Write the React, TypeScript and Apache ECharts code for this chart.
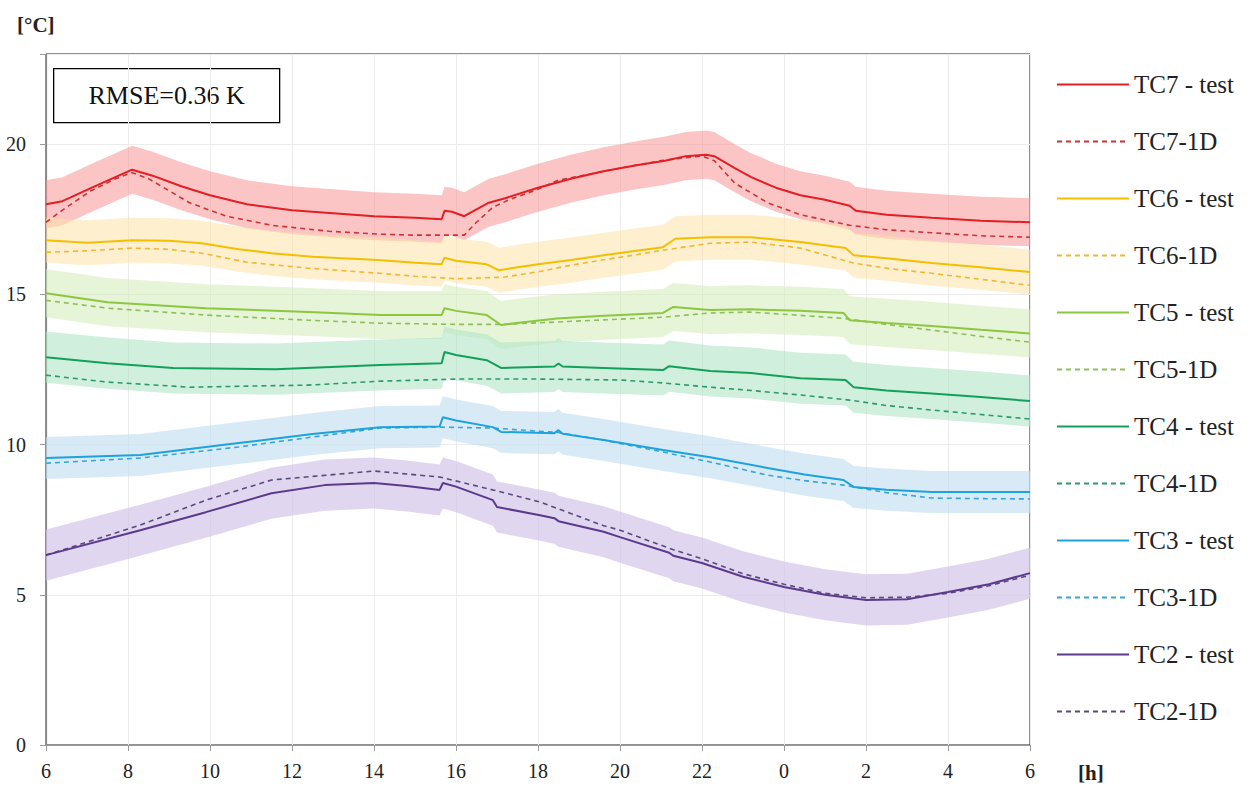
import React, { useEffect, useRef } from "react";
import * as echarts from "echarts";

// x values: hours elapsed since 06:00 (0..24); labels show clock hour
const xTickLabels = ["6", "8", "10", "12", "14", "16", "18", "20", "22", "0", "2", "4", "6"];
const yTickLabels = [0, 5, 10, 15, 20];

// TC7
const tc7TestT = [0, 0.4, 1.2, 2.1, 2.6, 3.3, 4.0, 4.9, 6.0, 7.0, 8.0, 9.0, 9.65, 9.72, 9.9, 10.2, 10.8, 11.2, 12.0, 12.8, 13.6, 14.4, 15.1, 15.6, 16.1, 16.3, 16.8, 17.2, 17.8, 18.4, 19.0, 19.6, 19.75, 20.5, 21.6, 22.8, 24];
const tc7TestV = [18.0, 18.1, 18.6, 19.15, 18.95, 18.6, 18.3, 18.0, 17.8, 17.7, 17.6, 17.55, 17.5, 17.78, 17.75, 17.6, 18.05, 18.2, 18.55, 18.85, 19.1, 19.3, 19.45, 19.6, 19.65, 19.6, 19.2, 18.9, 18.55, 18.3, 18.15, 17.95, 17.78, 17.65, 17.55, 17.45, 17.4];
const tc71DT = [0, 0.5, 1.1, 1.7, 2.1, 2.5, 3.0, 3.5, 4.4, 5.5, 6.9, 8.2, 9.0, 10.2, 10.5, 10.9, 11.3, 12.0, 12.5, 13.6, 15.0, 15.6, 16.0, 16.3, 16.8, 17.6, 18.4, 19.6, 20.5, 21.6, 22.8, 24];
const tc71DV = [17.4, 17.9, 18.45, 18.85, 19.05, 18.85, 18.45, 18.05, 17.6, 17.3, 17.1, 17.0, 16.97, 16.97, 17.4, 17.9, 18.15, 18.5, 18.8, 19.1, 19.45, 19.55, 19.6, 19.45, 18.7, 18.05, 17.65, 17.3, 17.15, 17.05, 16.95, 16.9];

// TC6
const tc6TestT = [0, 1.0, 2.1, 3.0, 3.8, 4.7, 5.5, 6.5, 8.1, 9.0, 9.65, 9.72, 10.0, 10.75, 11.05, 11.5, 12.0, 12.8, 13.6, 14.4, 15.05, 15.35, 16.2, 17.2, 18.4, 19.5, 19.7, 20.5, 21.6, 22.8, 24];
const tc6TestV = [16.8, 16.72, 16.8, 16.78, 16.7, 16.5, 16.37, 16.25, 16.14, 16.05, 16.0, 16.22, 16.12, 16.0, 15.8, 15.9, 16.0, 16.14, 16.3, 16.45, 16.57, 16.85, 16.9, 16.9, 16.74, 16.54, 16.3, 16.2, 16.04, 15.9, 15.74];
const tc61DT = [0, 1.0, 2.1, 3.0, 3.8, 4.9, 6.4, 8.15, 9.0, 10.0, 11.15, 12.0, 12.8, 13.6, 14.4, 15.05, 16.2, 17.2, 18.4, 19.7, 20.6, 21.6, 22.8, 24];
const tc61DV = [16.4, 16.45, 16.54, 16.5, 16.37, 16.07, 15.87, 15.7, 15.6, 15.52, 15.57, 15.75, 15.97, 16.15, 16.32, 16.47, 16.7, 16.74, 16.54, 16.04, 15.85, 15.7, 15.5, 15.3];

// TC5
const tc5TestT = [0, 1.5, 3.9, 6.4, 8.15, 9.65, 9.72, 10.0, 10.75, 11.1, 11.8, 12.46, 13.5, 15.05, 15.3, 16.2, 17.17, 18.4, 19.45, 19.6, 20.5, 21.6, 22.8, 24];
const tc5TestV = [15.04, 14.74, 14.54, 14.41, 14.31, 14.31, 14.54, 14.45, 14.31, 13.98, 14.1, 14.2, 14.28, 14.38, 14.58, 14.48, 14.5, 14.45, 14.38, 14.14, 14.05, 13.95, 13.82, 13.7];
const tc51DT = [0, 1.5, 3.9, 6.4, 8.15, 10.0, 11.1, 12.46, 15.05, 16.2, 17.17, 18.4, 19.45, 20.5, 21.6, 22.8, 24];
const tc51DV = [14.8, 14.54, 14.31, 14.14, 14.04, 14.0, 14.0, 14.08, 14.24, 14.38, 14.41, 14.3, 14.2, 14.0, 13.81, 13.6, 13.41];

// TC4
const tc4TestT = [0, 1.5, 3.1, 5.6, 8.15, 9.65, 9.72, 10.0, 10.75, 11.1, 12.4, 12.5, 12.6, 13.6, 15.05, 15.2, 16.2, 17.2, 18.4, 19.5, 19.7, 20.5, 21.6, 22.8, 24];
const tc4TestV = [12.91, 12.71, 12.55, 12.51, 12.65, 12.71, 13.08, 12.98, 12.81, 12.55, 12.6, 12.7, 12.6, 12.55, 12.48, 12.61, 12.45, 12.38, 12.21, 12.15, 11.91, 11.8, 11.7, 11.58, 11.45];
const tc41DT = [0, 1.5, 3.5, 6.4, 8.15, 10.0, 12.0, 14.0, 15.05, 16.2, 17.2, 18.4, 19.6, 20.5, 21.6, 22.8, 24];
const tc41DV = [12.31, 12.08, 11.91, 11.98, 12.11, 12.18, 12.18, 12.15, 12.05, 11.91, 11.8, 11.65, 11.48, 11.3, 11.15, 11.0, 10.85];

// TC3
const tc3TestT = [0, 2.3, 4.7, 6.5, 8.15, 9.6, 9.68, 10.0, 10.9, 11.1, 12.4, 12.5, 12.6, 13.6, 15.05, 16.2, 17.6, 18.5, 19.45, 19.7, 20.5, 21.6, 22.8, 24];
const tc3TestV = [9.55, 9.65, 10.05, 10.35, 10.58, 10.6, 10.91, 10.8, 10.58, 10.42, 10.38, 10.48, 10.36, 10.15, 9.82, 9.58, 9.22, 9.0, 8.82, 8.59, 8.5, 8.42, 8.42, 8.42];
const tc31DT = [0, 2.3, 4.7, 6.5, 8.15, 9.6, 10.9, 12.5, 13.6, 15.05, 16.2, 17.6, 18.5, 19.45, 20.5, 21.6, 22.8, 24];
const tc31DV = [9.38, 9.55, 9.92, 10.25, 10.55, 10.58, 10.55, 10.4, 10.15, 9.75, 9.42, 8.98, 8.8, 8.65, 8.4, 8.22, 8.2, 8.19];

// TC2
const tc2TestT = [0, 2.3, 3.9, 5.5, 6.8, 8.0, 8.8, 9.6, 9.68, 10.0, 10.9, 11.0, 12.05, 12.4, 12.5, 13.6, 14.0, 15.2, 15.3, 16.0, 17.0, 18.0, 19.0, 20.0, 21.0, 22.0, 23.0, 24];
const tc2TestV = [6.32, 7.15, 7.75, 8.38, 8.65, 8.72, 8.62, 8.49, 8.72, 8.6, 8.15, 7.92, 7.65, 7.55, 7.45, 7.1, 6.92, 6.4, 6.3, 6.06, 5.6, 5.26, 5.0, 4.83, 4.85, 5.09, 5.35, 5.72];
const tc21DT = [0, 2.3, 3.9, 5.5, 8.0, 9.6, 10.9, 12.05, 13.6, 14.0, 15.3, 16.0, 17.0, 18.0, 19.0, 20.0, 21.0, 22.0, 23.0, 24];
const tc21DV = [6.32, 7.32, 8.15, 8.82, 9.12, 8.92, 8.49, 8.09, 7.3, 7.15, 6.5, 6.2, 5.7, 5.35, 5.05, 4.9, 4.92, 5.05, 5.3, 5.65];

// measurement uncertainty half-width of each test sensor [K]
const uncertainty = [0.8, 0.75, 0.8, 0.85, 0.7, 0.85];

const sensorNames = ["TC7", "TC6", "TC5", "TC4", "TC3", "TC2"];
const testT = [tc7TestT, tc6TestT, tc5TestT, tc4TestT, tc3TestT, tc2TestT];
const testV = [tc7TestV, tc6TestV, tc5TestV, tc4TestV, tc3TestV, tc2TestV];
const simT = [tc71DT, tc61DT, tc51DT, tc41DT, tc31DT, tc21DT];
const simV = [tc71DV, tc61DV, tc51DV, tc41DV, tc31DV, tc21DV];

const lineColors = ["#e31e24", "#f2c000", "#8dc63f", "#13a05a", "#1ca3dc", "#5b3a8c"];
const dashColors = ["#cc3333", "#efb832", "#8fbf5a", "#2a9a6e", "#35a6d6", "#5a4a7a"];
const bandColors = [
  "rgba(248,150,150,0.55)",
  "rgba(253,225,165,0.55)",
  "rgba(214,236,190,0.6)",
  "rgba(176,228,198,0.6)",
  "rgba(196,222,242,0.65)",
  "rgba(212,196,234,0.7)",
];

const serif = "Liberation Serif";

export default function App() {
  const ref = useRef<HTMLDivElement>(null);

  useEffect(() => {
    if (!ref.current) return;
    const chart = echarts.init(ref.current, undefined, { renderer: "svg" });

    const series: any[] = [];
    const legendData: string[] = [];

    sensorNames.forEach((name, k) => {
      const t = testT[k];
      const v = testV[k];
      const u = uncertainty[k];
      const rows = t.map((x, i) => [x, v[i] - u, v[i] + u]);
      series.push({
        type: "custom",
        name: name + "_band",
        data: rows,
        silent: true,
        z: 1,
        encode: { x: 0, y: [1, 2] },
        renderItem: (params: any, api: any) => {
          if (params.dataIndex !== 0) return null;
          const upper = rows.map((r) => api.coord([r[0], r[2]]));
          const lower = rows.map((r) => api.coord([r[0], r[1]])).reverse();
          return {
            type: "polygon",
            shape: { points: upper.concat(lower) },
            style: { fill: bandColors[k] },
          };
        },
      });
    });

    sensorNames.forEach((name, k) => {
      const testName = name + " - test";
      const simName = name + "-1D";
      legendData.push(testName, simName);
      series.push({
        type: "line",
        name: testName,
        data: testT[k].map((x, i) => [x, testV[k][i]]),
        symbol: "none",
        color: lineColors[k],
        lineStyle: { color: lineColors[k], width: 2 },
        z: 4,
      });
      series.push({
        type: "line",
        name: simName,
        data: simT[k].map((x, i) => [x, simV[k][i]]),
        symbol: "none",
        color: dashColors[k],
        lineStyle: { color: dashColors[k], width: 1.6, type: [5, 4] },
        z: 3,
      });
    });

    chart.setOption({
      animation: false,
      backgroundColor: "#ffffff",
      grid: {
        left: 46,
        right: 224,
        top: 54,
        bottom: 44,
        show: true,
        borderColor: "#222",
        borderWidth: 1,
        backgroundColor: "transparent",
      },
      legend: {
        data: legendData,
        orient: "vertical",
        left: 1056,
        top: 72,
        padding: 0,
        itemWidth: 72,
        itemHeight: 14,
        itemGap: 32,
        itemStyle: { opacity: 0 },
        textStyle: { fontSize: 25, fontFamily: serif, color: "#222" },
      },
      xAxis: {
        type: "value",
        min: 0,
        max: 24,
        interval: 2,
        axisLine: { show: true, lineStyle: { color: "#999", width: 1.2 } },
        axisTick: { show: true, length: 6, lineStyle: { color: "#999" } },
        axisLabel: {
          fontSize: 20,
          fontFamily: serif,
          color: "#222",
          margin: 16,
          formatter: (val: number) => xTickLabels[Math.round(val / 2)] ?? "",
        },
        splitLine: { show: true, lineStyle: { color: "#ececec", width: 1 } },
      },
      yAxis: {
        type: "value",
        min: 0,
        max: 23,
        interval: 5,
        axisLine: { show: true, lineStyle: { color: "#888", width: 1.2 } },
        axisTick: { show: true, length: 6, lineStyle: { color: "#999" } },
        axisLabel: {
          fontSize: 20,
          fontFamily: serif,
          color: "#222",
          margin: 20,
          formatter: (val: number) => (yTickLabels.includes(val) ? String(val) : ""),
        },
        splitLine: { show: true, lineStyle: { color: "#ececec", width: 1 } },
      },
      graphic: [
        {
          type: "text",
          left: 17,
          top: 14,
          style: { text: "[°C]", fontSize: 21, fontWeight: "bold", fontFamily: serif, fill: "#222" },
        },
        {
          type: "text",
          left: 1078,
          top: 762,
          style: { text: "[h]", fontSize: 21, fontWeight: "bold", fontFamily: serif, fill: "#222" },
        },
        {
          type: "group",
          left: 53,
          top: 68,
          z: 100,
          children: [
            {
              type: "rect",
              shape: { x: 0, y: 0, width: 226, height: 54 },
              style: { fill: "#fff", stroke: "#000", lineWidth: 1.3 },
            },
            {
              type: "text",
              x: 113,
              y: 27,
              style: {
                text: "RMSE=0.36 K",
                fontSize: 26,
                fontFamily: serif,
                fill: "#111",
                align: "center",
                verticalAlign: "middle",
              },
            },
          ],
        },
      ],
      series,
    });

    return () => chart.dispose();
  }, []);

  return (
    <div
      ref={ref}
      style={{ position: "fixed", left: 0, top: 0, width: 1254, height: 789, background: "#fff" }}
    />
  );
}
